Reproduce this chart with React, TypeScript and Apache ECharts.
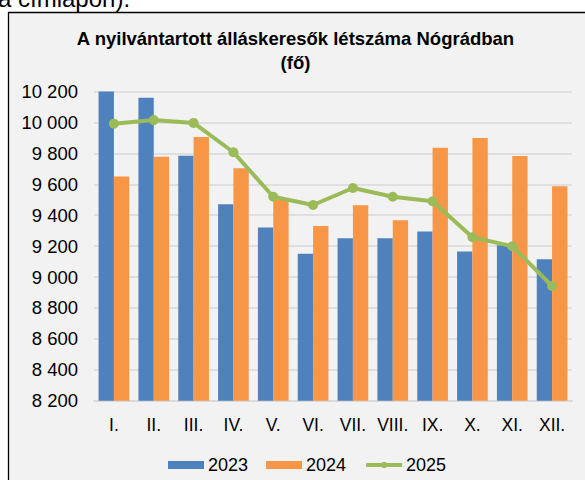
import React, { useEffect, useRef } from "react";
import * as echarts from "echarts";

const months = ["I.", "II.", "III.", "IV.", "V.", "VI.", "VII.", "VIII.", "IX.", "X.", "XI.", "XII."];
const y2023 = [10200, 10160, 9785, 9470, 9320, 9150, 9250, 9250, 9295, 9165, 9205, 9115];
const y2024 = [9650, 9778, 9905, 9703, 9498, 9330, 9464, 9367, 9836, 9899, 9783, 9587];
const y2025 = [9992, 10015, 9997, 9807, 9519, 9466, 9576, 9519, 9490, 9257, 9199, 8942];
const yTicks = { min: 8200, max: 10200, step: 200 };
const titleLines = ["A nyilvántartott álláskeresők létszáma Nógrádban", "(fő)"];

const fmt = (v: number) => String(v).replace(/\B(?=(\d{3})+(?!\d))/g, " ");
const FONT = "Arial, 'Liberation Sans', sans-serif";

export default function App() {
  const ref = useRef<HTMLDivElement>(null);
  useEffect(() => {
    if (!ref.current) return;
    const chart = echarts.init(ref.current, null, { renderer: "svg" });
    chart.setOption({
      animation: false,
      backgroundColor: "#ffffff",
      textStyle: { fontFamily: FONT },
      graphic: [
        {
          type: "text",
          z: -20,
          x: -2,
          y: 10,
          style: { text: "a címlapon).", fontSize: 24, fontFamily: FONT, fill: "#000", textVerticalAlign: "bottom" },
        },
        {
          type: "rect",
          z: -10,
          shape: { x: 8.5, y: 12.5, width: 620, height: 520 },
          style: { fill: "#f2f2f2", stroke: "#000", lineWidth: 1.3 },
        },
        {
          type: "text",
          z: 10,
          x: 295.5,
          y: 26.5,
          style: {
            text: titleLines.join("\n"),
            fontSize: 18.5,
            fontWeight: "bold",
            fontFamily: FONT,
            fill: "#000",
            lineHeight: 24,
            textAlign: "center",
            textVerticalAlign: "top",
          },
        },
      ],
      legend: {
        left: 163,
        top: 451,
        itemGap: 18,
        itemWidth: 36,
        itemHeight: 8,
        textStyle: { fontFamily: FONT, fontSize: 18, color: "#000", padding: [0, 0, 0, -1] },
        data: [
          { name: "2023", icon: "rect" },
          { name: "2024", icon: "rect" },
          { name: "2025", lineStyle: { width: 4 } },
        ],
      },
      grid: { left: 94, right: 13, top: 91.5, bottom: 79.3, containLabel: false },
      xAxis: {
        type: "category",
        data: months,
        axisTick: { show: false },
        axisLine: { lineStyle: { color: "#d9d9d9", width: 2 } },
        axisLabel: { fontFamily: FONT, fontSize: 17.5, color: "#000", margin: 15, interval: 0 },
      },
      yAxis: {
        type: "value",
        min: yTicks.min,
        max: yTicks.max,
        interval: yTicks.step,
        axisLine: { show: false },
        axisTick: { show: false },
        splitLine: { lineStyle: { color: "#d9d9d9", width: 1.5 } },
        axisLabel: { fontFamily: FONT, fontSize: 18.5, color: "#000", margin: 16, formatter: fmt },
      },
      series: [
        {
          name: "2023",
          type: "bar",
          data: y2023,
          barGap: "0%",
          barCategoryGap: "23%",
          itemStyle: { color: "#4f81bd" },
        },
        {
          name: "2024",
          type: "bar",
          data: y2024,
          barGap: "0%",
          barCategoryGap: "23%",
          itemStyle: { color: "#f79646" },
        },
        {
          name: "2025",
          type: "line",
          data: y2025,
          symbol: "circle",
          symbolSize: 10,
          lineStyle: { color: "#9bbb59", width: 4 },
          itemStyle: { color: "#9bbb59" },
          z: 5,
        },
      ],
    });
    return () => chart.dispose();
  }, []);
  return (
    <div style={{ position: "fixed", left: 0, top: 0, width: 585, height: 480, background: "#fff" }}>
      <div ref={ref} style={{ width: 585, height: 480 }} />
    </div>
  );
}
